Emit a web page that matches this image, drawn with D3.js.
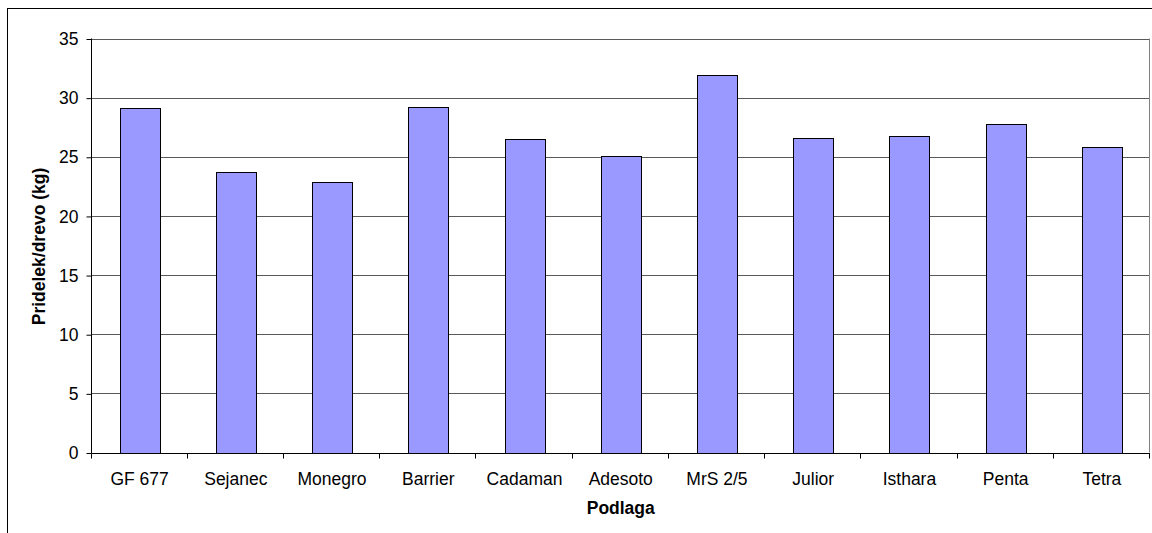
<!DOCTYPE html>
<html>
<head>
<meta charset="utf-8">
<script src="https://cdn.jsdelivr.net/npm/d3@7"></script>
<style>
  html, body { margin: 0; padding: 0; background: #fff; }
  svg { display: block; font-family: "Liberation Sans", Arial, sans-serif; }
</style>
</head>
<body>
<svg id="chart" width="1152" height="533"></svg>
<script>
// Yield per tree by rootstock
const categories = ["GF 677", "Sejanec", "Monegro", "Barrier", "Cadaman", "Adesoto", "MrS 2/5", "Julior", "Isthara", "Penta", "Tetra"];
const yields = [29.1, 23.7, 22.85, 29.2, 26.5, 25.05, 31.95, 26.6, 26.75, 27.75, 25.8];
const yTicks = [0, 5, 10, 15, 20, 25, 30, 35];
const xTitle = "Podlaga";
const yTitle = "Pridelek/drevo (kg)";

const svg = d3.select("#chart");
const plot = { left: 91.5, right: 1150, top: 38.5, bottom: 452.5 };
const fs = 17.5;

// outer chart frame (extends past the canvas on right and bottom)
svg.append("rect")
  .attr("x", 7.5).attr("y", 8.5)
  .attr("width", 1160).attr("height", 560)
  .attr("fill", "none").attr("stroke", "#000").attr("stroke-width", 1);

const x = d3.scaleBand().domain(categories).range([plot.left, plot.right]).paddingInner(0).paddingOuter(0);
const y = d3.scaleLinear().domain([0, 35]).range([plot.bottom, plot.top]);

// horizontal gridlines
svg.append("g").selectAll("line").data(yTicks.filter(d => d > 0)).join("line")
  .attr("x1", plot.left).attr("x2", plot.right)
  .attr("y1", d => Math.round(y(d)) + 0.5).attr("y2", d => Math.round(y(d)) + 0.5)
  .attr("stroke", "#5a5a5a").attr("stroke-width", 1);

// plot area right border
svg.append("line")
  .attr("x1", plot.right - 0.5).attr("x2", plot.right - 0.5)
  .attr("y1", plot.top).attr("y2", plot.bottom)
  .attr("stroke", "#808080");

// bars
const bw = x.bandwidth() * 0.415;
svg.append("g").selectAll("rect").data(categories).join("rect")
  .attr("x", (d) => Math.round(x(d) + x.bandwidth() / 2 - bw / 2) + 0.5)
  .attr("y", (d, i) => Math.round(y(yields[i])) + 0.5)
  .attr("width", Math.round(bw))
  .attr("height", (d, i) => Math.round(y(0)) - Math.round(y(yields[i])))
  .attr("fill", "#9999FF")
  .attr("stroke", "#000").attr("stroke-width", 1);

// y axis
const yAxis = d3.axisLeft(y).tickValues(yTicks).tickSize(5).tickPadding(8);
const gy = svg.append("g").attr("transform", `translate(${plot.left},0.5)`).call(yAxis);
gy.select(".domain").remove();
gy.append("line").attr("x1", 0).attr("x2", 0).attr("y1", plot.top - 0.5).attr("y2", plot.bottom).attr("stroke", "#000");
gy.selectAll("text").attr("font-size", fs).attr("fill", "#000").attr("font-family", "Liberation Sans, Arial, sans-serif");

// x axis with ticks between categories
const gx = svg.append("g").attr("transform", `translate(0,${Math.round(y(0)) + 0.5})`);
gx.append("line").attr("x1", plot.left).attr("x2", plot.right).attr("stroke", "#000");
const bounds = categories.map(c => x(c)).concat([plot.right]);
gx.selectAll("line.tick").data(bounds).join("line").attr("class", "tick")
  .attr("x1", d => Math.round(d) - 0.5).attr("x2", d => Math.round(d) - 0.5)
  .attr("y1", 0).attr("y2", 5).attr("stroke", "#000");
gx.selectAll("text").data(categories).join("text")
  .attr("x", d => x(d) + x.bandwidth() / 2)
  .attr("y", 31.5)
  .attr("text-anchor", "middle")
  .attr("font-size", fs).attr("fill", "#000")
  .text(d => d);

// axis titles
svg.append("text")
  .attr("x", (plot.left + plot.right) / 2).attr("y", 514)
  .attr("text-anchor", "middle").attr("font-weight", "bold").attr("font-size", fs)
  .text(xTitle);
svg.append("text")
  .attr("transform", `translate(44.5,${(plot.top + plot.bottom) / 2 + 1}) rotate(-90)`)
  .attr("text-anchor", "middle").attr("font-weight", "bold").attr("font-size", fs)
  .text(yTitle);
</script>
</body>
</html>
